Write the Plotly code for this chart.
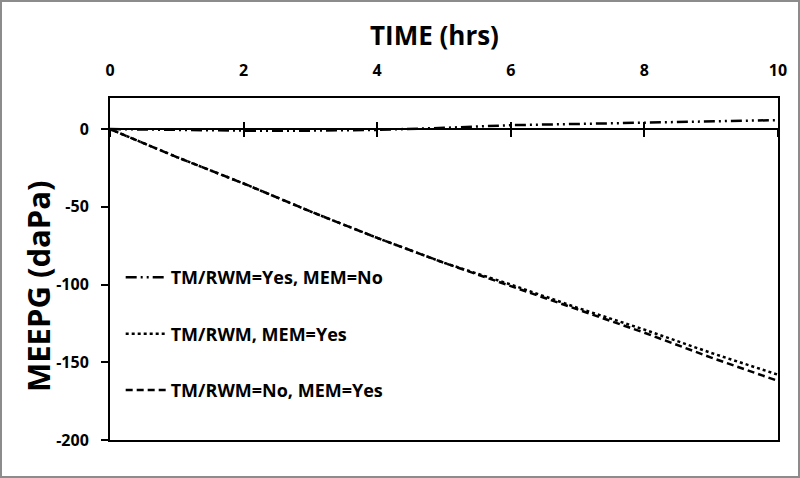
import plotly.graph_objects as go

# 시간 (hrs)
time_hrs = [0, 1, 2, 3, 4, 5, 6, 7, 8, 9, 10]

# MEEPG (daPa)
tm_yes_mem_no = [0, -0.5, -1.0, -1.0, -0.5, 0.8, 2.5, 3.3, 4.2, 5.0, 5.8]
tm_mem_yes    = [0, -18, -35, -53, -70, -86, -100, -115, -129, -144, -158]
tm_no_mem_yes = [0, -18, -35, -53, -70, -86, -101, -116, -131, -147, -162]

names = ['TM/RWM=Yes, MEM=No', 'TM/RWM, MEM=Yes', 'TM/RWM=No, MEM=Yes']
x_ticks = [0, 2, 4, 6, 8, 10]
y_ticks = [0, -50, -100, -150, -200]

FONT = 'Open Sans'
W, H = 800, 478
ML, MR, MT, MB = 110, 22, 98, 38
PW, PH = W - ML - MR, H - MT - MB

fig = go.Figure()

styles = [
    dict(dash='11px,4px,2px,4px,2px,4px', width=2.5),
    dict(dash='dot', width=2.5),
    dict(dash='7px,4px', width=2.5),
]
for i, (name, ys) in enumerate(zip(names, [tm_yes_mem_no, tm_mem_yes, tm_no_mem_yes])):
    fig.add_trace(go.Scatter(
        x=time_hrs, y=ys, name=name, mode='lines',
        line=dict(color='black', **styles[i]),
        legendgroup=str(i),
    ))

# y=0 위치의 x축 (교차 눈금)
zero_pos = 1 - 20 / 220

fig.update_layout(
    width=W, height=H,
    margin=dict(l=ML, r=MR, t=MT, b=MB, autoexpand=False),
    paper_bgcolor='white', plot_bgcolor='white',
    font=dict(family=FONT, color='black', size=15),
    showlegend=True,
    legend=dict(
        x=0.016, y=0.529, xanchor='left', yanchor='top',
        bgcolor='rgba(0,0,0,0)',
        font=dict(family=FONT, size=18, color='black', weight='bold'),
        tracegroupgap=30,
        itemwidth=40,
    ),
    xaxis=dict(
        range=[0, 10], side='top', tickvals=x_ticks,
        ticks='', showgrid=False, zeroline=False,
        showline=True, linecolor='black', linewidth=2, mirror=True,
        tickfont=dict(family=FONT, size=16, weight='bold'),
        ticklabelstandoff=14,
    ),
    xaxis2=dict(
        range=[0, 10], overlaying='x', anchor='free', position=zero_pos,
        side='bottom', tickvals=x_ticks, ticks='outside', ticklen=7, tickwidth=2,
        tickcolor='black', showticklabels=False, showgrid=False, zeroline=False,
        showline=True, linecolor='black', linewidth=2,
    ),
    xaxis3=dict(
        range=[0, 10], overlaying='x', anchor='free', position=zero_pos,
        side='bottom', tickvals=x_ticks, ticks='inside', ticklen=7, tickwidth=2,
        tickcolor='black', showticklabels=False, showgrid=False, zeroline=False,
        showline=False,
    ),
    yaxis=dict(
        range=[-200, 20], tickvals=y_ticks, ticktext=[str(v) for v in y_ticks],
        ticks='outside', ticklen=7, tickwidth=2,
        tickcolor='black', showgrid=False, zeroline=False,
        showline=True, linecolor='black', linewidth=2, mirror=True,
        tickfont=dict(family=FONT, size=16, weight='bold'),
        ticklabelstandoff=9,
    ),
)

# 축 제목
fig.add_annotation(
    text='<b>TIME (hrs)</b>', xref='paper', yref='paper',
    x=(434 - ML) / PW, y=1 + (MT - 35) / PH, xanchor='center', yanchor='middle',
    showarrow=False, font=dict(family=FONT, size=26, color='black'),
)
fig.add_annotation(
    text='<b>MEEPG (daPa)</b>', xref='paper', yref='paper',
    x=(38 - ML) / PW, y=1 - (287 - MT) / PH, xanchor='center', yanchor='middle',
    textangle=-90, showarrow=False, font=dict(family=FONT, size=31, color='black'),
)

# 보조 축이 그려지도록 빈 트레이스 추가
fig.add_trace(go.Scatter(x=[0], y=[0], xaxis='x2', mode='markers',
                         marker=dict(opacity=0), showlegend=False, hoverinfo='skip'))
fig.add_trace(go.Scatter(x=[0], y=[0], xaxis='x3', mode='markers',
                         marker=dict(opacity=0), showlegend=False, hoverinfo='skip'))

# 바깥 회색 테두리
fig.add_shape(
    type='rect', xref='paper', yref='paper',
    x0=-(ML - 1) / PW, x1=1 + (MR - 1) / PW,
    y0=-(MB - 1) / PH, y1=1 + (MT - 1) / PH,
    line=dict(color='#8c8c8c', width=2), fillcolor='rgba(0,0,0,0)', layer='below',
)

fig.write_html("out.html", config={'displayModeBar': False},
               post_script="document.body.style.margin='0';")
